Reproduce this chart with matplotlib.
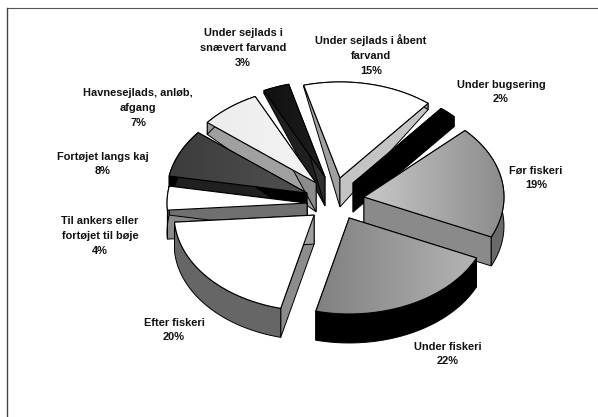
import numpy as np
import matplotlib
matplotlib.use('Agg')
import matplotlib.pyplot as plt
from matplotlib.patches import Polygon

plt.rcParams['font.family'] = ['Liberation Sans', 'DejaVu Sans']

# data
labels = ['Under sejlads i åbent\nfarvand', 'Under bugsering', 'Før fiskeri', 'Under fiskeri',
          'Efter fiskeri', 'Til ankers eller\nfortøjet til bøje', 'Fortøjet langs kaj',
          'Havnesejlads, anløb,\nafgang', 'Under sejlads i\nsnævert farvand']
values = [15, 2, 19, 22, 20, 4, 8, 7, 3]

# style per slice
explode = [0.219, 0.236, 0.264, 0.27, 0.21, 0.156, 0.149, 0.166, 0.209]
explode_dir = [25, 52, 90, 144, 206, 246, 286, 332, 356]
top_col = [('#ffffff', '#ffffff'), ('#000000', '#000000'), ('#c8c8c8', '#8c8c8c'), ('#808080', '#b4b4b4'),
           ('#ffffff', '#ffffff'), ('#ffffff', '#ffffff'), ('#3c3c3c', '#505050'),
           ('#ececec', '#f4f4f4'), ('#101010', '#1e1e1e')]
side_a = ['#a0a0a0', '#000000', '#9a9a9a', '#8a8a8a', '#8c8c8c', '#8a8a8a', '#202020', '#a0a0a0', '#202020']
side_b = ['#c4c4c4', '#000000', '#8a8a8a', '#888888', '#a0a0a0', '#707070', '#000000', '#8c8c8c', '#303030']
side_o = ['#888888', '#000000', '#6a6a6a', '#000000', '#666666', '#555555', '#000000', '#999999', '#202020']
label_xy = [(371, 55), (501, 92), (536, 178), (448, 354), (174, 330), (100, 236), (103, 164), (138, 108), (243, 48)]

cx, cy = 327, 197
rx, ry = 140, 96
start = -15


def depth(y):
    return 29 * np.clip((y - 75) / 100, 0, 1) ** 1.2


def proj(th, r, ax0, ay0):
    t = np.radians(th)
    return ax0 + rx * r * np.sin(t), ay0 - ry * r * np.cos(t)


def gradient_poly(ax, pts, c1, c2, z):
    pts = np.array(pts)
    rgb1 = np.array(matplotlib.colors.to_rgb(c1))
    rgb2 = np.array(matplotlib.colors.to_rgb(c2))
    t = np.linspace(0, 1, 64)[None, :, None]
    img = rgb1 + (rgb2 - rgb1) * t
    x0, x1, y0, y1 = pts[:, 0].min(), pts[:, 0].max(), pts[:, 1].min(), pts[:, 1].max()
    im = ax.imshow(img, extent=(x0, x1, y1, y0), zorder=z, aspect='auto', interpolation='bilinear')
    poly = Polygon(pts, closed=True, transform=ax.transData, facecolor='none', edgecolor='none')
    ax.add_patch(poly)
    im.set_clip_path(poly)
    ax.add_patch(Polygon(pts, closed=True, facecolor='none', edgecolor='#000000', lw=0.8, zorder=z + 0.1))


fig = plt.figure(figsize=(5.98, 4.17), dpi=100)
ax = fig.add_axes([0, 0, 1, 1])
ax.axis('off')

fractions = np.array(values) / sum(values) * 360
ends = start + np.cumsum(fractions)
starts = ends - fractions
mids = (starts + ends) / 2

# back to front
order = np.argsort(-np.cos(np.radians(mids)))
z = 2
for i in order:
    ax0, ay0 = proj(explode_dir[i], explode[i], cx, cy)
    th = np.linspace(starts[i], ends[i], 50)
    ox, oy = proj(th, 1.0, ax0, ay0)
    dp = depth(oy)
    apex_d = depth(ay0)
    # side by the start of the slice, side by the end, outer band
    sa = [(ax0, ay0), (ox[0], oy[0]), (ox[0], oy[0] + dp[0]), (ax0, ay0 + apex_d)]
    sb = [(ax0, ay0), (ox[-1], oy[-1]), (ox[-1], oy[-1] + dp[-1]), (ax0, ay0 + apex_d)]
    band = list(zip(ox, oy)) + list(zip(ox[::-1], (oy + dp)[::-1]))
    ax.add_patch(Polygon(sa, closed=True, fc=side_a[i], ec='k', lw=0.7, zorder=z))
    ax.add_patch(Polygon(sb, closed=True, fc=side_b[i], ec='k', lw=0.7, zorder=z))
    ax.add_patch(Polygon(band, closed=True, fc=side_o[i], ec='k', lw=0.7, zorder=z))
    top = [(ax0, ay0)] + list(zip(ox, oy))
    gradient_poly(ax, top, top_col[i][0], top_col[i][1], z + 0.5)
    z += 1

for i in range(len(values)):
    ax.text(label_xy[i][0], label_xy[i][1], labels[i] + '\n%d%%' % values[i], ha='center', va='center',
            fontsize=7.9, fontweight='bold', color='#111111', linespacing=1.6, zorder=50)

# border of the scan: only top and left show
ax.plot([7, 7], [8, 417], color='#444444', lw=1.0, zorder=60)
ax.plot([7, 598], [8, 8], color='#555555', lw=0.8, zorder=60)

ax.set_xlim(0, 598)
ax.set_ylim(417, 0)
fig.savefig('out.png', dpi=100)
